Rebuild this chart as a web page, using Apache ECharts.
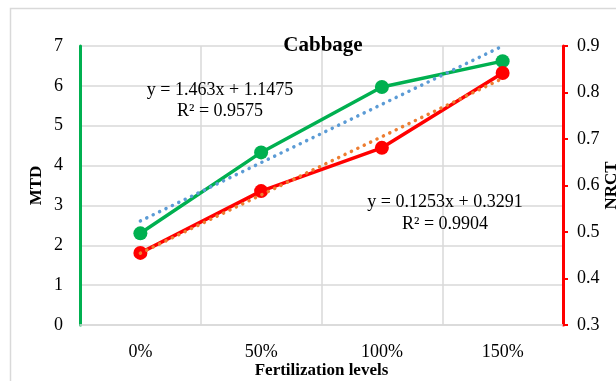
<!DOCTYPE html>
<html>
<head>
<meta charset="utf-8">
<script src="https://cdn.jsdelivr.net/npm/echarts@6/dist/echarts.min.js"></script>
<style>
  html, body { margin: 0; padding: 0; background: #fff; }
  #chart { width: 616px; height: 381px; }
</style>
</head>
<body>
<div id="chart"></div>
<script>
// Fertilization levels on the category axis
const levels = ['0%', '50%', '100%', '150%'];
// MTD (left axis) and NRCT (right axis) measurements
const mtd = [2.30, 4.33, 5.97, 6.62];
const nrct = [0.455, 0.588, 0.681, 0.842];
// Linear trendline coefficients (y = slope * x + intercept, x = 1..4)
const mtdFit = { slope: 1.463, intercept: 1.1475, r2: '0.9575' };
const nrctFit = { slope: 0.1253, intercept: 0.3291, r2: '0.9904' };

const trend = fit => levels.map((_, i) => +(fit.slope * (i + 1) + fit.intercept).toFixed(4));

const serif = '"Liberation Serif", "Times New Roman", serif';
const chart = echarts.init(document.getElementById('chart'), null, { renderer: 'canvas' });

chart.setOption({
  animation: false,
  backgroundColor: '#fff',
  textStyle: { fontFamily: serif, color: '#000' },
  title: {
    text: 'Cabbage',
    left: 318, top: 30, textAlign: 'center',
    textStyle: { fontFamily: serif, fontWeight: 'bold', fontSize: 21, color: '#000' }
  },
  grid: { left: 80, right: 53, top: 46, bottom: 56, containLabel: false, outerBoundsMode: 'none' },
  xAxis: {
    type: 'category',
    data: levels,
    boundaryGap: true,
    axisLine: { show: true, lineStyle: { color: '#d9d9d9', width: 1.5 } },
    axisTick: { show: false },
    axisLabel: { fontFamily: serif, fontSize: 18, color: '#000', margin: 18 },
    splitLine: { show: true, interval: 0, lineStyle: { color: '#d9d9d9', width: 1.5 } },
    name: 'Fertilization levels',
    nameLocation: 'middle',
    nameGap: 37,
    nameMoveOverlap: false,
    nameTextStyle: { fontFamily: serif, fontWeight: 'bold', fontSize: 17, color: '#000', verticalAlign: 'top' }
  },
  yAxis: [
    {
      type: 'value', min: 0, max: 7, interval: 1,
      axisLine: { show: true, lineStyle: { color: '#00b050', width: 3 } },
      axisTick: { show: false },
      axisLabel: { fontFamily: serif, fontSize: 18, color: '#000', margin: 17 },
      splitLine: { show: true, lineStyle: { color: '#d9d9d9', width: 1.5 } },
      name: 'MTD', nameLocation: 'middle', nameGap: 35, nameRotate: 90,
      nameMoveOverlap: false,
      nameTextStyle: { fontFamily: serif, fontWeight: 'bold', fontSize: 17, color: '#000' }
    },
    {
      type: 'value', min: 0.3, max: 0.9, interval: 0.1, position: 'right',
      axisLine: { show: true, lineStyle: { color: '#ff0000', width: 3 } },
      axisTick: { show: true, inside: false, length: 5, lineStyle: { color: '#ff0000', width: 2 } },
      axisLabel: { fontFamily: serif, fontSize: 18, color: '#000', margin: 14,
        formatter: v => v.toFixed(1) },
      splitLine: { show: false },
      name: 'NRCT', nameLocation: 'middle', nameGap: 40, nameRotate: 90,
      nameMoveOverlap: false,
      nameTextStyle: { fontFamily: serif, fontWeight: 'bold', fontSize: 17, color: '#000' }
    }
  ],
  series: [
    {
      name: 'MTD', type: 'line', yAxisIndex: 0, data: mtd,
      symbol: 'circle', symbolSize: 14,
      lineStyle: { color: '#00b050', width: 3.5 },
      itemStyle: { color: '#00b050' }, z: 2
    },
    {
      name: 'NRCT', type: 'line', yAxisIndex: 1, data: nrct,
      symbol: 'circle', symbolSize: 14,
      lineStyle: { color: '#ff0000', width: 3.5 },
      itemStyle: { color: '#ff0000' }, z: 2
    },
    {
      name: 'MTD trend', type: 'line', yAxisIndex: 0, data: trend(mtdFit),
      symbol: 'none', silent: true,
      lineStyle: { color: '#5b9bd5', width: 3.5, type: [0.1, 7], cap: 'round' }, z: 3
    },
    {
      name: 'NRCT trend', type: 'line', yAxisIndex: 1, data: trend(nrctFit),
      symbol: 'none', silent: true,
      lineStyle: { color: '#ed7d31', width: 3.5, type: [0.1, 7], cap: 'round' }, z: 3
    }
  ],
  graphic: [
    {
      type: 'rect', silent: true, z: -1,
      shape: { x: 10.5, y: 8.5, width: 640, height: 400 },
      style: { fill: 'none', stroke: '#d9d9d9', lineWidth: 1.5 }
    },
    {
      type: 'text', x: 220, y: 101, z: 10,
      style: { text: 'y = ' + mtdFit.slope + 'x + ' + mtdFit.intercept + '\nR² = ' + mtdFit.r2,
        font: '18px ' + serif, fill: '#000', align: 'center', verticalAlign: 'middle', lineHeight: 21 }
    },
    {
      type: 'text', x: 445, y: 213, z: 10,
      style: { text: 'y = ' + nrctFit.slope + 'x + ' + nrctFit.intercept + '\nR² = ' + nrctFit.r2,
        font: '18px ' + serif, fill: '#000', align: 'center', verticalAlign: 'middle', lineHeight: 22 }
    }
  ]
});
</script>
</body>
</html>
